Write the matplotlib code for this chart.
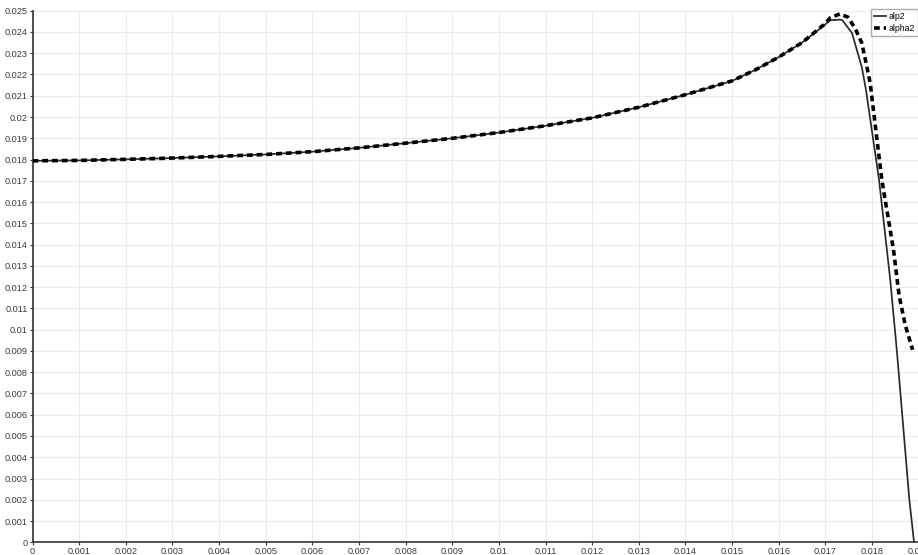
import matplotlib
matplotlib.use("Agg")
import matplotlib.pyplot as plt

# alp2 profile (solid)
x_alp2 = [0.0, 0.001, 0.002, 0.003, 0.004, 0.005, 0.006, 0.007, 0.008, 0.009,
          0.010, 0.011, 0.012, 0.013, 0.014, 0.015, 0.0155, 0.016, 0.0165,
          0.017, 0.0171, 0.0173, 0.01736, 0.01757, 0.01778, 0.01787, 0.01815,
          0.01839, 0.01853, 0.0188, 0.0189]
y_alp2 = [0.01794, 0.01796, 0.01801, 0.01807, 0.01815, 0.01824, 0.01837, 0.01855,
          0.01877, 0.01900, 0.01927, 0.01959, 0.01996, 0.02046, 0.02105, 0.02170,
          0.02222, 0.02282, 0.02350, 0.02436, 0.02455, 0.02458, 0.02456, 0.02395,
          0.02235, 0.02127, 0.01704, 0.01234, 0.00905, 0.00199, 0.0]

# alpha2 profile (dashed)
x_alpha2 = [0.0, 0.001, 0.002, 0.003, 0.004, 0.005, 0.006, 0.007, 0.008, 0.009,
            0.010, 0.011, 0.012, 0.013, 0.014, 0.015, 0.0155, 0.016, 0.0165,
            0.017, 0.0171, 0.01731, 0.01748, 0.01763, 0.01778, 0.01789, 0.01796,
            0.01821, 0.01846, 0.01858, 0.01871, 0.01887]
y_alpha2 = [0.01794, 0.01796, 0.01801, 0.01807, 0.01815, 0.01824, 0.01837, 0.01855,
            0.01877, 0.01900, 0.01927, 0.01959, 0.01996, 0.02046, 0.02105, 0.02170,
            0.02222, 0.02282, 0.02350, 0.02440, 0.02466, 0.02485, 0.02470, 0.02420,
            0.02348, 0.02235, 0.02160, 0.01704, 0.01375, 0.01160, 0.01023, 0.00905]

x_ticks = [i / 1000 for i in range(0, 20)]
y_ticks = [i / 1000 for i in range(0, 26)]


def fmt(v):
    return "0" if v == 0 else ("%.3f" % v).rstrip("0")


plt.rcParams["font.family"] = ["Liberation Sans", "DejaVu Sans"]

fig = plt.figure(figsize=(9.18, 5.55), dpi=100)
W, H = 918.0, 555.0
left, right = 32.5, 918.7
top, bottom = 10.7, 542.3
ax = fig.add_axes([left / W, (H - bottom) / H, (right - left) / W, (bottom - top) / H])

ax.plot(x_alp2, y_alp2, color="#2a2a2a", lw=1.25, label="alp2", zorder=3)
ax.plot(x_alpha2, y_alpha2, color="black", lw=2.6, linestyle=(0, (1.6, 1.1)),
        label="alpha2", zorder=4)

ax.set_xlim(0, 0.019)
ax.set_ylim(0, 0.025)
ax.set_xticks(x_ticks)
ax.set_xticklabels([fmt(v) for v in x_ticks])
ax.set_yticks(y_ticks)
ax.set_yticklabels([fmt(v) for v in y_ticks])

ax.grid(True, color="#ececec", lw=0.8, zorder=0)
ax.set_axisbelow(True)
for s in ("top", "right"):
    ax.spines[s].set_visible(False)
for s in ("left", "bottom"):
    ax.spines[s].set_color("#333333")
    ax.spines[s].set_linewidth(1.2)

ax.tick_params(axis="both", labelsize=6.6, colors="#333333", length=2.5, width=0.8,
               pad=1.0, labelcolor="#3a3a3a")

leg = ax.legend(loc="upper right", bbox_to_anchor=(1.0, 1 - 9 / H),
                bbox_transform=fig.transFigure, borderaxespad=0.0, fontsize=6.3,
                frameon=True, fancybox=False, handlelength=1.4, handletextpad=0.3,
                borderpad=0.35, labelspacing=0.3)
leg.get_frame().set_edgecolor("#999999")
leg.get_frame().set_linewidth(1.0)

fig.savefig("out.png", dpi=100)
